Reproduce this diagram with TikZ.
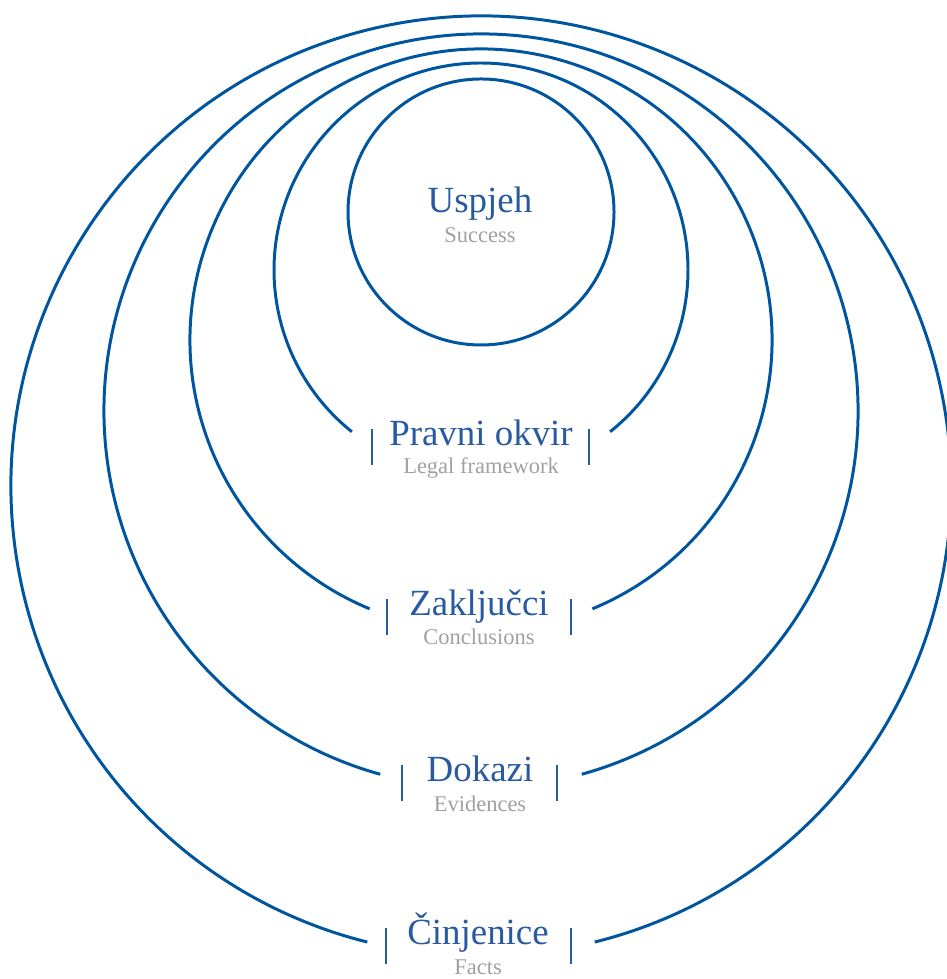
\documentclass[tikz,border=0pt]{standalone}
\usepackage{fontspec}
\setmainfont{Liberation Serif}
\usetikzlibrary{positioning}
\definecolor{ringblue}{RGB}{0,86,158}
\definecolor{titleblue}{RGB}{40,90,160}
\definecolor{subgrey}{RGB}{160,160,160}

\begin{document}
\begin{tikzpicture}[x=0.2mm, y=0.2mm,
  ring/.style={draw=ringblue, line width=1.7pt},
  bar/.style={draw=titleblue, line width=1.1pt},
  title/.style={text=titleblue, font=\fontsize{21}{24}\selectfont, anchor=base, inner sep=0pt},
  subtitle/.style={text=subgrey, font=\fontsize{12.8}{14}\selectfont, anchor=base, inner sep=0pt}]
\useasboundingbox (0,0) rectangle (946,979);

% closed inner ring
\draw[ring] (481,767) circle[radius=133];
% open rings, gap at the bottom for the label
\foreach \cy/\r/\a in {709/207/51.4, 639/291/67.5, 568/377/74.5, 493/470/76}
  \draw[ring] ([shift={(-\a:\r)}]481,\cy) arc[start angle=-\a, end angle=180+\a, radius=\r];

% labels
\node[title] (uspjeh) at (480,766) {Uspjeh};
\node[subtitle] (success) at (480,736) {Success};
\node[title] (pravni) at (481,533) {Pravni okvir};
\node[subtitle] (legal) at (481,505) {Legal framework};
\node[title] (zakljucci) at (479,363) {Zaključci};
\node[subtitle] (conclusions) at (479,334) {Conclusions};
\node[title] (dokazi) at (480,197) {Dokazi};
\node[subtitle] (evidences) at (480,167) {Evidences};
\node[title] (cinjenice) at (478,34) {Činjenice};
\node[subtitle] (facts) at (478,4) {Facts};

% bars beside the labels
\foreach \xl/\xr/\yb in {372/589/533, 387/571/363, 402/557/197, 386/571/34} {
  \draw[bar] (\xl,\yb+17) -- (\xl,\yb-19);
  \draw[bar] (\xr,\yb+17) -- (\xr,\yb-19);
}
\end{tikzpicture}
\end{document}
